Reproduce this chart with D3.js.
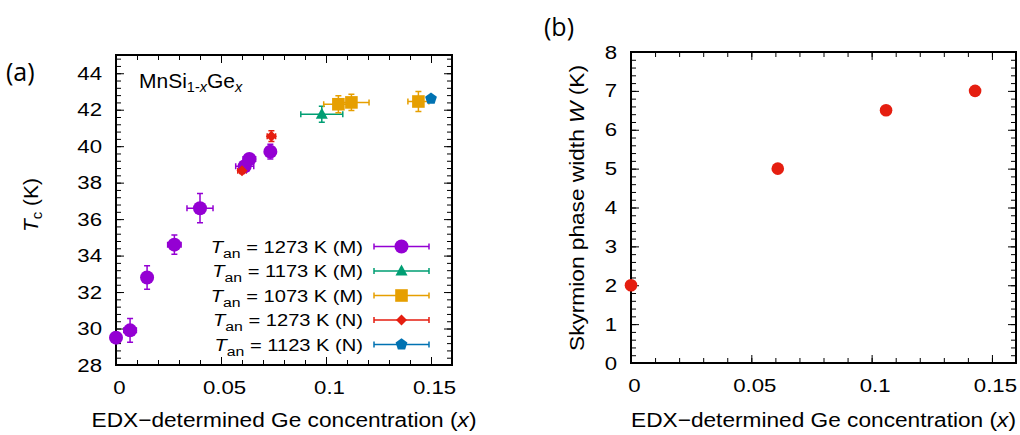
<!DOCTYPE html>
<html lang="en">
  <head>
    <meta charset="UTF-8" />
    <title>MnSi1-xGe_x Tc and skyrmion phase width</title>
    <script src="https://d3js.org/d3.v7.min.js"></script>
    <style>
      html,
      body {
        margin: 0;
        padding: 0;
        background-color: #fff;
      }
      svg {
        display: block;
        font-family: "Liberation Sans", Arial, sans-serif;
      }
    </style>
  </head>
  <body>
    <svg id="chart" width="1020" height="435"></svg>

    <script>
      // panel (a) data: [x, Tc, x error, Tc error]
      const an1273M = [
        [0, 29.5, 0.001, 0.1],
        [0.0067, 29.9, 0.003, 0.65],
        [0.0148, 32.8, 0.002, 0.64],
        [0.0278, 34.6, 0.0032, 0.53],
        [0.04, 36.6, 0.0062, 0.8],
        [0.0613, 38.9, 0.0043, 0.2],
        [0.0635, 39.3, 0.003, 0.2],
        [0.0735, 39.7, 0.002, 0.4],
      ];
      const an1173M = [[0.098, 41.75, 0.01, 0.44]];
      const an1073M = [
        [0.1059, 42.3, 0.007, 0.47],
        [0.1121, 42.4, 0.0084, 0.45],
        [0.144, 42.45, 0.005, 0.55],
      ];
      const an1273N = [
        [0.06, 38.65, 0.002, 0.15],
        [0.074, 40.55, 0.002, 0.3],
      ];
      const an1123N = [[0.15, 42.6, 0.001, 0.1]];

      const annealTemps = ["1273", "1173", "1073", "1273", "1123"];
      const sampleKinds = ["M", "M", "M", "N", "N"];

      // panel (b) data
      const skyrmionX = [0, 0.061, 0.106, 0.143];
      const skyrmionW = [2, 5, 6.5, 7];

      const xTicks = [0, 0.05, 0.1, 0.15];
      const tcTicks = [28, 30, 32, 34, 36, 38, 40, 42, 44];
      const wTicks = [0, 1, 2, 3, 4, 5, 6, 7, 8];

      const series = [
        { data: an1273M, color: "#9400d3", shape: "circle" },
        { data: an1173M, color: "#009e73", shape: "triangle" },
        { data: an1073M, color: "#e69f00", shape: "square" },
        { data: an1273N, color: "#e51e10", shape: "diamond" },
        { data: an1123N, color: "#0072b2", shape: "pentagon" },
      ];

      const svg = d3.select("#chart");

      // marker shapes
      function markerPath(shape) {
        if (shape === "circle") return d3.symbol(d3.symbolCircle, Math.PI * 49)();
        if (shape === "square") return "M-6.3,-6.3H6.3V6.3H-6.3Z";
        if (shape === "diamond") return "M0,-5.5L5.5,0L0,5.5L-5.5,0Z";
        if (shape === "triangle") return "M0,-6.5L6,4.5L-6,4.5Z";
        // pentagon
        const pts = d3.range(5).map((k) => {
          const a = -Math.PI / 2 + (k * 2 * Math.PI) / 5;
          return [6.2 * Math.cos(a), 6.2 * Math.sin(a)];
        });
        return "M" + pts.join("L") + "Z";
      }

      function drawAxes(g, x, y, yMajor, yMinor, xMinor) {
        const [x0, x1] = x.range();
        const [y0, y1] = y.range();
        const s = 1.17;

        const clean = (sel) => {
          sel.select(".domain").remove();
          sel.selectAll("line").attr("stroke", "#000").attr("stroke-width", 1);
          sel.attr("font-family", null).attr("font-size", null);
        };

        // minor ticks on all four sides
        g.append("g").attr("transform", `translate(0,${y0})`)
          .call(d3.axisBottom(x).tickValues(xMinor).tickSize(-5).tickFormat("")).call(clean);
        g.append("g").attr("transform", `translate(0,${y1})`)
          .call(d3.axisTop(x).tickValues(xMinor).tickSize(-5).tickFormat("")).call(clean);
        g.append("g").attr("transform", `translate(${x0},0)`)
          .call(d3.axisLeft(y).tickValues(yMinor).tickSize(-5).tickFormat("")).call(clean);
        g.append("g").attr("transform", `translate(${x1},0)`)
          .call(d3.axisRight(y).tickValues(yMinor).tickSize(-5).tickFormat("")).call(clean);

        // major ticks
        const bottom = g.append("g").attr("transform", `translate(0,${y0})`)
          .call(d3.axisBottom(x).tickValues(xTicks).tickSize(-8).tickPadding(16).tickFormat((d) => String(d)))
          .call(clean);
        bottom.selectAll(".tick text")
          .attr("font-size", 19).attr("fill", "#000")
          .attr("transform", `translate(3,0) scale(${s},1)`);

        g.append("g").attr("transform", `translate(0,${y1})`)
          .call(d3.axisTop(x).tickValues(xTicks).tickSize(-8).tickFormat("")).call(clean);

        const left = g.append("g").attr("transform", `translate(${x0},0)`)
          .call(d3.axisLeft(y).tickValues(yMajor).tickSize(-8).tickPadding(14))
          .call(clean);
        left.selectAll(".tick text")
          .attr("font-size", 19).attr("fill", "#000").attr("x", 0)
          .attr("transform", `translate(-14,0) scale(${s},1)`);

        g.append("g").attr("transform", `translate(${x1},0)`)
          .call(d3.axisRight(y).tickValues(yMajor).tickSize(-8).tickFormat("")).call(clean);

        g.append("rect")
          .attr("x", x0).attr("y", y1)
          .attr("width", x1 - x0).attr("height", y0 - y1)
          .attr("fill", "none").attr("stroke", "#000").attr("stroke-width", 2);
      }

      function xTitle(g, cx) {
        const t = g.append("g")
          .attr("transform", `translate(${cx},427) scale(1.08,1)`)
          .append("text").attr("text-anchor", "middle").attr("font-size", 21);
        t.append("tspan").text("EDX\u2212determined Ge concentration (");
        t.append("tspan").attr("font-style", "italic").text("x");
        t.append("tspan").text(")");
      }

      function errorBar(g, x, y, d, color) {
        const [px, py, ex, ey] = d;
        const cx = x(px), cy = y(py);
        const xl = x(px - ex), xr = x(px + ex);
        const yt = y(py + ey), yb = y(py - ey);
        const c = 3;
        const path = `M${xl},${cy}H${xr}M${xl},${cy - c}V${cy + c}M${xr},${cy - c}V${cy + c}` +
          `M${cx},${yt}V${yb}M${cx - c},${yt}H${cx + c}M${cx - c},${yb}H${cx + c}`;
        g.append("path").attr("d", path).attr("fill", "none")
          .attr("stroke", color).attr("stroke-width", 1.5);
      }

      // ---------- panel (a)
      const xa = d3.scaleLinear().domain([0, 0.16]).range([116, 452]);
      const ya = d3.scaleLinear().domain([28, 45]).range([365, 55]);
      const ga = svg.append("g");

      drawAxes(ga, xa, ya, tcTicks,
        d3.range(0, 43).map((i) => 28 + i * 0.4),
        d3.range(0, 17).map((i) => i / 100));

      series.forEach((sr) => {
        sr.data.forEach((d) => errorBar(ga, xa, ya, d, sr.color));
      });
      series.forEach((sr) => {
        ga.selectAll(null).data(sr.data).enter().append("path")
          .attr("d", markerPath(sr.shape))
          .attr("transform", (d) => `translate(${xa(d[0])},${ya(d[1])})`)
          .attr("fill", sr.color);
      });

      // compound label
      const mn = ga.append("text").attr("x", 139).attr("y", 88).attr("font-size", 21);
      mn.append("tspan").text("MnSi");
      mn.append("tspan").attr("font-size", 14.5).attr("dy", 4).text("1-");
      mn.append("tspan").attr("font-size", 14.5).attr("font-style", "italic").text("x");
      mn.append("tspan").attr("dy", -4).text("Ge");
      mn.append("tspan").attr("font-size", 14.5).attr("font-style", "italic").attr("dy", 4).text("x");

      // legend
      series.forEach((sr, i) => {
        const ry = 246.5 + i * 24.5;
        const lg = ga.append("g").attr("transform", `translate(0,${ry})`);
        const t = lg.append("g").attr("transform", `translate(363,6) scale(1.17,1)`)
          .append("text").attr("text-anchor", "end").attr("font-size", 17.2);
        t.append("tspan").attr("font-style", "italic").text("T");
        t.append("tspan").attr("font-size", 13.5).attr("dy", 5).text("an");
        t.append("tspan").attr("dy", -5).text(` = ${annealTemps[i]} K (${sampleKinds[i]})`);
        lg.append("path")
          .attr("d", "M374,0H429M374,-3V3M429,-3V3")
          .attr("stroke", sr.color).attr("stroke-width", 1.5).attr("fill", "none");
        lg.append("path").attr("d", markerPath(sr.shape))
          .attr("transform", "translate(401.5,0)").attr("fill", sr.color);
      });

      xTitle(ga, 284);

      const yta = ga.append("g").attr("transform", "translate(38,205) rotate(-90)")
        .append("text").attr("text-anchor", "middle").attr("font-size", 21);
      yta.append("tspan").attr("font-style", "italic").text("T");
      yta.append("tspan").attr("font-size", 15).attr("dy", 4).text("c");
      yta.append("tspan").attr("dy", -4).text(" (K)");

      ga.append("text").attr("x", 6).attr("y", 81)
        .attr("font-family", "'Open Sans', 'Noto Sans', sans-serif").attr("font-size", 25).text("(a)");

      // ---------- panel (b)
      const xb = d3.scaleLinear().domain([0, 0.16]).range([631, 1016]);
      const yb = d3.scaleLinear().domain([0, 8]).range([363, 52]);
      const gb = svg.append("g");

      drawAxes(gb, xb, yb, wTicks,
        d3.range(0, 41).map((i) => i * 0.2),
        d3.range(0, 17).map((i) => i / 100));

      gb.selectAll(".pt").data(skyrmionX).enter().append("circle")
        .attr("class", "pt")
        .attr("cx", (d) => xb(d))
        .attr("cy", (d, i) => yb(skyrmionW[i]))
        .attr("r", 6.3)
        .attr("fill", "#e51e10");

      xTitle(gb, 823.5);

      const ytb = gb.append("g").attr("transform", "translate(584,208) rotate(-90) scale(1.08,1)")
        .append("text").attr("text-anchor", "middle").attr("font-size", 21);
      ytb.append("tspan").text("Skyrmion phase width ");
      ytb.append("tspan").attr("font-style", "italic").text("W");
      ytb.append("tspan").text(" (K)");

      gb.append("text").attr("x", 544).attr("y", 36)
        .attr("font-family", "'Open Sans', 'Noto Sans', sans-serif").attr("font-size", 25).text("(b)");
    </script>
  </body>
</html>
